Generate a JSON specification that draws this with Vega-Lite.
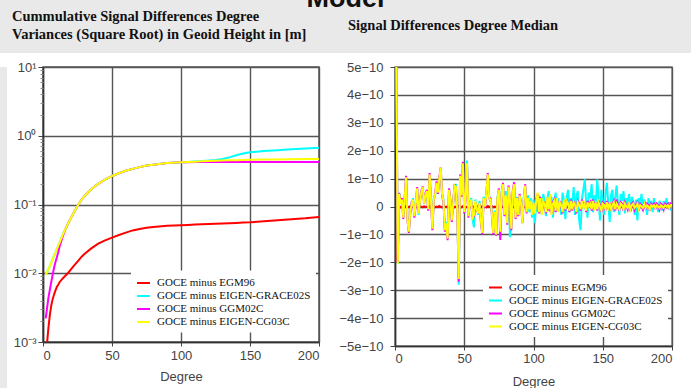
{
"$schema":"https://vega.github.io/schema/vega-lite/v6.json",
"background":"white",
"padding":0,
"spacing":14,
"bounds":"flush",
"config":{"view":{"stroke":null},"axis":{"labelFont":"Liberation Sans","labelFontSize":13,"labelColor":"#444","titleFont":"Liberation Sans","titleFontSize":13,"titleFontWeight":"normal","titleColor":"#444","domainColor":"#333","domainWidth":1.5,"tickColor":"#444","gridColor":"#555","gridWidth":1.4}},
"datasets":{
"cum":[
{"d":2,"EGM96":0.0008,"EIGEN-GRACE02S":0.0095,"GGM02C":0.0022,"EIGEN-CG03C":0.0095},
{"d":3,"EGM96":0.001,"EIGEN-GRACE02S":0.0105,"GGM02C":0.0032,"EIGEN-CG03C":0.0105},
{"d":4,"EGM96":0.00166,"EIGEN-GRACE02S":0.0115,"GGM02C":0.0045,"EIGEN-CG03C":0.0115},
{"d":5,"EGM96":0.0025,"EIGEN-GRACE02S":0.0128,"GGM02C":0.0058,"EIGEN-CG03C":0.0128},
{"d":6,"EGM96":0.0034,"EIGEN-GRACE02S":0.0142,"GGM02C":0.0075,"EIGEN-CG03C":0.0142},
{"d":7,"EGM96":0.0042,"EIGEN-GRACE02S":0.016,"GGM02C":0.0095,"EIGEN-CG03C":0.016},
{"d":8,"EGM96":0.0049,"EIGEN-GRACE02S":0.018,"GGM02C":0.012,"EIGEN-CG03C":0.018},
{"d":9,"EGM96":0.0056,"EIGEN-GRACE02S":0.02,"GGM02C":0.0145,"EIGEN-CG03C":0.02},
{"d":10,"EGM96":0.0063,"EIGEN-GRACE02S":0.0225,"GGM02C":0.017,"EIGEN-CG03C":0.0225},
{"d":11,"EGM96":0.0068,"EIGEN-GRACE02S":0.025,"GGM02C":0.02,"EIGEN-CG03C":0.025},
{"d":12,"EGM96":0.0074,"EIGEN-GRACE02S":0.028,"GGM02C":0.0245,"EIGEN-CG03C":0.028},
{"d":14,"EGM96":0.0083,"EIGEN-GRACE02S":0.035,"GGM02C":0.033,"EIGEN-CG03C":0.035},
{"d":16,"EGM96":0.0091,"EIGEN-GRACE02S":0.043,"GGM02C":0.0425,"EIGEN-CG03C":0.043},
{"d":18,"EGM96":0.01,"EIGEN-GRACE02S":0.052,"GGM02C":0.052,"EIGEN-CG03C":0.052},
{"d":20,"EGM96":0.0112,"EIGEN-GRACE02S":0.062,"GGM02C":0.062,"EIGEN-CG03C":0.062},
{"d":22,"EGM96":0.0126,"EIGEN-GRACE02S":0.074,"GGM02C":0.074,"EIGEN-CG03C":0.074},
{"d":25,"EGM96":0.0148,"EIGEN-GRACE02S":0.095,"GGM02C":0.095,"EIGEN-CG03C":0.095},
{"d":28,"EGM96":0.0174,"EIGEN-GRACE02S":0.118,"GGM02C":0.118,"EIGEN-CG03C":0.118},
{"d":30,"EGM96":0.019,"EIGEN-GRACE02S":0.132,"GGM02C":0.132,"EIGEN-CG03C":0.132},
{"d":35,"EGM96":0.023,"EIGEN-GRACE02S":0.167,"GGM02C":0.167,"EIGEN-CG03C":0.167},
{"d":40,"EGM96":0.027,"EIGEN-GRACE02S":0.2,"GGM02C":0.2,"EIGEN-CG03C":0.2},
{"d":45,"EGM96":0.03,"EIGEN-GRACE02S":0.23,"GGM02C":0.23,"EIGEN-CG03C":0.23},
{"d":50,"EGM96":0.033,"EIGEN-GRACE02S":0.26,"GGM02C":0.26,"EIGEN-CG03C":0.26},
{"d":55,"EGM96":0.036,"EIGEN-GRACE02S":0.285,"GGM02C":0.285,"EIGEN-CG03C":0.285},
{"d":60,"EGM96":0.039,"EIGEN-GRACE02S":0.31,"GGM02C":0.31,"EIGEN-CG03C":0.31},
{"d":65,"EGM96":0.042,"EIGEN-GRACE02S":0.33,"GGM02C":0.33,"EIGEN-CG03C":0.33},
{"d":70,"EGM96":0.044,"EIGEN-GRACE02S":0.35,"GGM02C":0.35,"EIGEN-CG03C":0.35},
{"d":75,"EGM96":0.046,"EIGEN-GRACE02S":0.37,"GGM02C":0.37,"EIGEN-CG03C":0.37},
{"d":80,"EGM96":0.047,"EIGEN-GRACE02S":0.38,"GGM02C":0.38,"EIGEN-CG03C":0.38},
{"d":90,"EGM96":0.049,"EIGEN-GRACE02S":0.4,"GGM02C":0.4,"EIGEN-CG03C":0.4},
{"d":100,"EGM96":0.05,"EIGEN-GRACE02S":0.41,"GGM02C":0.41,"EIGEN-CG03C":0.41},
{"d":105,"EGM96":0.0505,"EIGEN-GRACE02S":0.415,"GGM02C":0.413,"EIGEN-CG03C":0.415},
{"d":110,"EGM96":0.051,"EIGEN-GRACE02S":0.422,"GGM02C":0.415,"EIGEN-CG03C":0.42},
{"d":115,"EGM96":0.0515,"EIGEN-GRACE02S":0.428,"GGM02C":0.415,"EIGEN-CG03C":0.425},
{"d":120,"EGM96":0.052,"EIGEN-GRACE02S":0.435,"GGM02C":0.415,"EIGEN-CG03C":0.43},
{"d":125,"EGM96":0.0525,"EIGEN-GRACE02S":0.445,"GGM02C":0.415,"EIGEN-CG03C":0.433},
{"d":130,"EGM96":0.053,"EIGEN-GRACE02S":0.46,"GGM02C":0.415,"EIGEN-CG03C":0.436},
{"d":135,"EGM96":0.0535,"EIGEN-GRACE02S":0.485,"GGM02C":0.415,"EIGEN-CG03C":0.44},
{"d":140,"EGM96":0.054,"EIGEN-GRACE02S":0.52,"GGM02C":0.415,"EIGEN-CG03C":0.442},
{"d":145,"EGM96":0.0545,"EIGEN-GRACE02S":0.55,"GGM02C":0.415,"EIGEN-CG03C":0.445},
{"d":150,"EGM96":0.055,"EIGEN-GRACE02S":0.575,"GGM02C":0.415,"EIGEN-CG03C":0.447},
{"d":160,"EGM96":0.057,"EIGEN-GRACE02S":0.6,"GGM02C":0.415,"EIGEN-CG03C":0.45},
{"d":170,"EGM96":0.059,"EIGEN-GRACE02S":0.615,"GGM02C":0.415,"EIGEN-CG03C":0.453},
{"d":180,"EGM96":0.061,"EIGEN-GRACE02S":0.635,"GGM02C":0.415,"EIGEN-CG03C":0.456},
{"d":190,"EGM96":0.063,"EIGEN-GRACE02S":0.655,"GGM02C":0.415,"EIGEN-CG03C":0.458},
{"d":200,"EGM96":0.066,"EIGEN-GRACE02S":0.67,"GGM02C":0.415,"EIGEN-CG03C":0.46}
],
"med":[
{"d":1,"EGM96":-2e-10,"EIGEN-GRACE02S":5e-10,"GGM02C":5e-10,"EIGEN-CG03C":5e-10},
{"d":2,"EGM96":-0.02e-10,"EIGEN-GRACE02S":-2.05e-10,"GGM02C":-2.0e-10,"EIGEN-CG03C":-2.05e-10},
{"d":3,"EGM96":0.01e-10,"EIGEN-GRACE02S":0.5e-10,"GGM02C":0.48e-10,"EIGEN-CG03C":0.45e-10},
{"d":4,"EGM96":-0.03e-10,"EIGEN-GRACE02S":0.15e-10,"GGM02C":0.12e-10,"EIGEN-CG03C":0.1e-10},
{"d":5,"EGM96":0.02e-10,"EIGEN-GRACE02S":0.2e-10,"GGM02C":0.3e-10,"EIGEN-CG03C":0.25e-10},
{"d":6,"EGM96":-0.01e-10,"EIGEN-GRACE02S":-0.35e-10,"GGM02C":-0.45e-10,"EIGEN-CG03C":-0.4e-10},
{"d":7,"EGM96":0.03e-10,"EIGEN-GRACE02S":0.3e-10,"GGM02C":0.35e-10,"EIGEN-CG03C":0.3e-10},
{"d":8,"EGM96":-0.02e-10,"EIGEN-GRACE02S":1.0e-10,"GGM02C":1.1e-10,"EIGEN-CG03C":1.05e-10},
{"d":9,"EGM96":0,"EIGEN-GRACE02S":-0.45e-10,"GGM02C":-0.5e-10,"EIGEN-CG03C":-0.5e-10},
{"d":10,"EGM96":-0.03e-10,"EIGEN-GRACE02S":-0.85e-10,"GGM02C":-0.95e-10,"EIGEN-CG03C":-0.9e-10},
{"d":11,"EGM96":0.02e-10,"EIGEN-GRACE02S":-0.2e-10,"GGM02C":-0.25e-10,"EIGEN-CG03C":-0.2e-10},
{"d":12,"EGM96":-0.01e-10,"EIGEN-GRACE02S":0.1e-10,"GGM02C":0.15e-10,"EIGEN-CG03C":0.1e-10},
{"d":13,"EGM96":-0.02e-10,"EIGEN-GRACE02S":0.3e-10,"GGM02C":0.2e-10,"EIGEN-CG03C":0.25e-10},
{"d":14,"EGM96":0.01e-10,"EIGEN-GRACE02S":-0.3e-10,"GGM02C":-0.4e-10,"EIGEN-CG03C":-0.35e-10},
{"d":15,"EGM96":-0.03e-10,"EIGEN-GRACE02S":0.15e-10,"GGM02C":0.05e-10,"EIGEN-CG03C":0.1e-10},
{"d":16,"EGM96":0,"EIGEN-GRACE02S":0.6e-10,"GGM02C":0.7e-10,"EIGEN-CG03C":0.65e-10},
{"d":17,"EGM96":-0.02e-10,"EIGEN-GRACE02S":-0.3e-10,"GGM02C":-0.2e-10,"EIGEN-CG03C":-0.25e-10},
{"d":18,"EGM96":0.02e-10,"EIGEN-GRACE02S":0.2e-10,"GGM02C":0.25e-10,"EIGEN-CG03C":0.2e-10},
{"d":19,"EGM96":-0.01e-10,"EIGEN-GRACE02S":0.45e-10,"GGM02C":0.55e-10,"EIGEN-CG03C":0.5e-10},
{"d":20,"EGM96":-0.03e-10,"EIGEN-GRACE02S":0.65e-10,"GGM02C":0.72e-10,"EIGEN-CG03C":0.7e-10},
{"d":21,"EGM96":0.01e-10,"EIGEN-GRACE02S":0.15e-10,"GGM02C":0.1e-10,"EIGEN-CG03C":0.1e-10},
{"d":22,"EGM96":-0.02e-10,"EIGEN-GRACE02S":0.35e-10,"GGM02C":0.45e-10,"EIGEN-CG03C":0.4e-10},
{"d":23,"EGM96":0,"EIGEN-GRACE02S":0.5e-10,"GGM02C":0.6e-10,"EIGEN-CG03C":0.55e-10},
{"d":24,"EGM96":-0.03e-10,"EIGEN-GRACE02S":-0.05e-10,"GGM02C":-0.15e-10,"EIGEN-CG03C":-0.1e-10},
{"d":25,"EGM96":0.02e-10,"EIGEN-GRACE02S":1.1e-10,"GGM02C":1.2e-10,"EIGEN-CG03C":1.15e-10},
{"d":26,"EGM96":-0.01e-10,"EIGEN-GRACE02S":0.25e-10,"GGM02C":0.15e-10,"EIGEN-CG03C":0.2e-10},
{"d":27,"EGM96":-0.02e-10,"EIGEN-GRACE02S":-0.75e-10,"GGM02C":-0.85e-10,"EIGEN-CG03C":-0.8e-10},
{"d":28,"EGM96":0.01e-10,"EIGEN-GRACE02S":0.3e-10,"GGM02C":0.2e-10,"EIGEN-CG03C":0.25e-10},
{"d":29,"EGM96":-0.03e-10,"EIGEN-GRACE02S":0.4e-10,"GGM02C":0.5e-10,"EIGEN-CG03C":0.45e-10},
{"d":30,"EGM96":0,"EIGEN-GRACE02S":0.8e-10,"GGM02C":0.9e-10,"EIGEN-CG03C":0.85e-10},
{"d":31,"EGM96":-0.02e-10,"EIGEN-GRACE02S":0.55e-10,"GGM02C":0.45e-10,"EIGEN-CG03C":0.5e-10},
{"d":32,"EGM96":0.02e-10,"EIGEN-GRACE02S":0.95e-10,"GGM02C":1.05e-10,"EIGEN-CG03C":1.0e-10},
{"d":33,"EGM96":-0.01e-10,"EIGEN-GRACE02S":1.35e-10,"GGM02C":1.4e-10,"EIGEN-CG03C":1.4e-10},
{"d":34,"EGM96":-0.03e-10,"EIGEN-GRACE02S":0.5e-10,"GGM02C":0.4e-10,"EIGEN-CG03C":0.45e-10},
{"d":35,"EGM96":0.01e-10,"EIGEN-GRACE02S":0.25e-10,"GGM02C":0.15e-10,"EIGEN-CG03C":0.2e-10},
{"d":36,"EGM96":-0.02e-10,"EIGEN-GRACE02S":-0.8e-10,"GGM02C":-0.9e-10,"EIGEN-CG03C":-0.85e-10},
{"d":37,"EGM96":0,"EIGEN-GRACE02S":-0.55e-10,"GGM02C":-0.65e-10,"EIGEN-CG03C":-0.6e-10},
{"d":38,"EGM96":-0.03e-10,"EIGEN-GRACE02S":-1.1e-10,"GGM02C":-1.21e-10,"EIGEN-CG03C":-1.15e-10},
{"d":39,"EGM96":0.02e-10,"EIGEN-GRACE02S":0.55e-10,"GGM02C":0.65e-10,"EIGEN-CG03C":0.6e-10},
{"d":40,"EGM96":-0.01e-10,"EIGEN-GRACE02S":0.25e-10,"GGM02C":0.2e-10,"EIGEN-CG03C":0.2e-10},
{"d":41,"EGM96":-0.02e-10,"EIGEN-GRACE02S":-0.45e-10,"GGM02C":-0.55e-10,"EIGEN-CG03C":-0.5e-10},
{"d":42,"EGM96":0.01e-10,"EIGEN-GRACE02S":0.15e-10,"GGM02C":0.1e-10,"EIGEN-CG03C":0.1e-10},
{"d":43,"EGM96":-0.03e-10,"EIGEN-GRACE02S":0.7e-10,"GGM02C":0.8e-10,"EIGEN-CG03C":0.75e-10},
{"d":44,"EGM96":0,"EIGEN-GRACE02S":0.75e-10,"GGM02C":0.65e-10,"EIGEN-CG03C":0.7e-10},
{"d":45,"EGM96":-0.02e-10,"EIGEN-GRACE02S":-0.15e-10,"GGM02C":-0.25e-10,"EIGEN-CG03C":-0.2e-10},
{"d":46,"EGM96":0.02e-10,"EIGEN-GRACE02S":-2.8e-10,"GGM02C":-2.7e-10,"EIGEN-CG03C":-2.6e-10},
{"d":47,"EGM96":-0.01e-10,"EIGEN-GRACE02S":1.05e-10,"GGM02C":1.15e-10,"EIGEN-CG03C":1.1e-10},
{"d":48,"EGM96":-0.03e-10,"EIGEN-GRACE02S":0.45e-10,"GGM02C":0.35e-10,"EIGEN-CG03C":0.4e-10},
{"d":49,"EGM96":0.01e-10,"EIGEN-GRACE02S":1.5e-10,"GGM02C":1.6e-10,"EIGEN-CG03C":1.55e-10},
{"d":50,"EGM96":-0.02e-10,"EIGEN-GRACE02S":-0.15e-10,"GGM02C":-0.25e-10,"EIGEN-CG03C":-0.2e-10},
{"d":51,"EGM96":0,"EIGEN-GRACE02S":0.35e-10,"GGM02C":0.25e-10,"EIGEN-CG03C":0.3e-10},
{"d":52,"EGM96":-0.03e-10,"EIGEN-GRACE02S":1.65e-10,"GGM02C":1.5e-10,"EIGEN-CG03C":1.55e-10},
{"d":53,"EGM96":0.02e-10,"EIGEN-GRACE02S":-0.3e-10,"GGM02C":-0.4e-10,"EIGEN-CG03C":-0.35e-10},
{"d":54,"EGM96":-0.01e-10,"EIGEN-GRACE02S":0.15e-10,"GGM02C":0.05e-10,"EIGEN-CG03C":0.1e-10},
{"d":55,"EGM96":-0.02e-10,"EIGEN-GRACE02S":0.3e-10,"GGM02C":0.2e-10,"EIGEN-CG03C":0.25e-10},
{"d":56,"EGM96":0.01e-10,"EIGEN-GRACE02S":-0.45e-10,"GGM02C":-0.35e-10,"EIGEN-CG03C":-0.4e-10},
{"d":57,"EGM96":-0.03e-10,"EIGEN-GRACE02S":-0.75e-10,"GGM02C":-0.35e-10,"EIGEN-CG03C":-0.3e-10},
{"d":58,"EGM96":0,"EIGEN-GRACE02S":0.25e-10,"GGM02C":0.15e-10,"EIGEN-CG03C":0.2e-10},
{"d":59,"EGM96":-0.02e-10,"EIGEN-GRACE02S":-0.05e-10,"GGM02C":-0.15e-10,"EIGEN-CG03C":-0.1e-10},
{"d":60,"EGM96":0.02e-10,"EIGEN-GRACE02S":-0.3e-10,"GGM02C":-0.2e-10,"EIGEN-CG03C":-0.25e-10},
{"d":61,"EGM96":-0.01e-10,"EIGEN-GRACE02S":0.2e-10,"GGM02C":0.1e-10,"EIGEN-CG03C":0.12e-10},
{"d":62,"EGM96":-0.03e-10,"EIGEN-GRACE02S":-0.45e-10,"GGM02C":-0.55e-10,"EIGEN-CG03C":-0.5e-10},
{"d":63,"EGM96":0.01e-10,"EIGEN-GRACE02S":-0.9e-10,"GGM02C":-1.0e-10,"EIGEN-CG03C":-0.95e-10},
{"d":64,"EGM96":-0.02e-10,"EIGEN-GRACE02S":0.35e-10,"GGM02C":0.25e-10,"EIGEN-CG03C":0.3e-10},
{"d":65,"EGM96":0,"EIGEN-GRACE02S":0.05e-10,"GGM02C":-0.05e-10,"EIGEN-CG03C":0},
{"d":66,"EGM96":-0.03e-10,"EIGEN-GRACE02S":0.55e-10,"GGM02C":0.45e-10,"EIGEN-CG03C":0.5e-10},
{"d":67,"EGM96":0.02e-10,"EIGEN-GRACE02S":1.1e-10,"GGM02C":1.2e-10,"EIGEN-CG03C":1.15e-10},
{"d":68,"EGM96":-0.01e-10,"EIGEN-GRACE02S":0.35e-10,"GGM02C":0.3e-10,"EIGEN-CG03C":0.3e-10},
{"d":69,"EGM96":-0.02e-10,"EIGEN-GRACE02S":0.2e-10,"GGM02C":0.3e-10,"EIGEN-CG03C":0.25e-10},
{"d":70,"EGM96":0.01e-10,"EIGEN-GRACE02S":-0.25e-10,"GGM02C":-0.35e-10,"EIGEN-CG03C":-0.3e-10},
{"d":71,"EGM96":-0.03e-10,"EIGEN-GRACE02S":-0.9e-10,"GGM02C":-1.0e-10,"EIGEN-CG03C":-0.95e-10},
{"d":72,"EGM96":0,"EIGEN-GRACE02S":-0.15e-10,"GGM02C":-0.25e-10,"EIGEN-CG03C":-0.2e-10},
{"d":73,"EGM96":-0.02e-10,"EIGEN-GRACE02S":-0.95e-10,"GGM02C":-1.05e-10,"EIGEN-CG03C":-1.0e-10},
{"d":74,"EGM96":0.02e-10,"EIGEN-GRACE02S":0.35e-10,"GGM02C":0.25e-10,"EIGEN-CG03C":0.3e-10},
{"d":75,"EGM96":-0.01e-10,"EIGEN-GRACE02S":0.55e-10,"GGM02C":0.65e-10,"EIGEN-CG03C":0.6e-10},
{"d":76,"EGM96":-0.03e-10,"EIGEN-GRACE02S":-0.85e-10,"GGM02C":-1.2e-10,"EIGEN-CG03C":-0.9e-10},
{"d":77,"EGM96":0.01e-10,"EIGEN-GRACE02S":0.55e-10,"GGM02C":0.45e-10,"EIGEN-CG03C":0.5e-10},
{"d":78,"EGM96":-0.02e-10,"EIGEN-GRACE02S":0.75e-10,"GGM02C":0.85e-10,"EIGEN-CG03C":0.8e-10},
{"d":79,"EGM96":0,"EIGEN-GRACE02S":-0.25e-10,"GGM02C":-0.35e-10,"EIGEN-CG03C":-0.3e-10},
{"d":80,"EGM96":-0.03e-10,"EIGEN-GRACE02S":0.55e-10,"GGM02C":0.35e-10,"EIGEN-CG03C":0.4e-10},
{"d":81,"EGM96":0.02e-10,"EIGEN-GRACE02S":-0.55e-10,"GGM02C":-0.65e-10,"EIGEN-CG03C":-0.6e-10},
{"d":82,"EGM96":-0.01e-10,"EIGEN-GRACE02S":0.65e-10,"GGM02C":0.75e-10,"EIGEN-CG03C":0.7e-10},
{"d":83,"EGM96":-0.02e-10,"EIGEN-GRACE02S":-1.1e-10,"GGM02C":0.15e-10,"EIGEN-CG03C":0.2e-10},
{"d":84,"EGM96":0.01e-10,"EIGEN-GRACE02S":-0.7e-10,"GGM02C":-0.85e-10,"EIGEN-CG03C":-0.8e-10},
{"d":85,"EGM96":-0.03e-10,"EIGEN-GRACE02S":0.45e-10,"GGM02C":0.55e-10,"EIGEN-CG03C":0.5e-10},
{"d":86,"EGM96":0,"EIGEN-GRACE02S":0.75e-10,"GGM02C":0.87e-10,"EIGEN-CG03C":0.8e-10},
{"d":87,"EGM96":-0.02e-10,"EIGEN-GRACE02S":-0.35e-10,"GGM02C":-0.45e-10,"EIGEN-CG03C":-0.4e-10},
{"d":88,"EGM96":0.02e-10,"EIGEN-GRACE02S":0.35e-10,"GGM02C":0.25e-10,"EIGEN-CG03C":0.3e-10},
{"d":89,"EGM96":-0.01e-10,"EIGEN-GRACE02S":-0.25e-10,"GGM02C":-0.35e-10,"EIGEN-CG03C":-0.3e-10},
{"d":90,"EGM96":-0.03e-10,"EIGEN-GRACE02S":0.35e-10,"GGM02C":0.45e-10,"EIGEN-CG03C":0.4e-10},
{"d":91,"EGM96":0.01e-10,"EIGEN-GRACE02S":0.15e-10,"GGM02C":0.05e-10,"EIGEN-CG03C":0.1e-10},
{"d":92,"EGM96":-0.02e-10,"EIGEN-GRACE02S":-0.55e-10,"GGM02C":-0.6e-10,"EIGEN-CG03C":-0.6e-10},
{"d":93,"EGM96":0,"EIGEN-GRACE02S":0.35e-10,"GGM02C":0.25e-10,"EIGEN-CG03C":0.3e-10},
{"d":94,"EGM96":-0.03e-10,"EIGEN-GRACE02S":0.7e-10,"GGM02C":0.8e-10,"EIGEN-CG03C":0.75e-10},
{"d":95,"EGM96":0.02e-10,"EIGEN-GRACE02S":-0.15e-10,"GGM02C":-0.25e-10,"EIGEN-CG03C":-0.2e-10},
{"d":96,"EGM96":-0.01e-10,"EIGEN-GRACE02S":0.4e-10,"GGM02C":0.25e-10,"EIGEN-CG03C":0.3e-10},
{"d":97,"EGM96":-0.02e-10,"EIGEN-GRACE02S":-0.2e-10,"GGM02C":-0.05e-10,"EIGEN-CG03C":-0.1e-10},
{"d":98,"EGM96":0.01e-10,"EIGEN-GRACE02S":0.3e-10,"GGM02C":0.15e-10,"EIGEN-CG03C":0.2e-10},
{"d":99,"EGM96":-0.03e-10,"EIGEN-GRACE02S":-0.4e-10,"GGM02C":-0.25e-10,"EIGEN-CG03C":-0.3e-10},
{"d":100,"EGM96":0,"EIGEN-GRACE02S":0.25e-10,"GGM02C":0.1e-10,"EIGEN-CG03C":0.15e-10},
{"d":101,"EGM96":0.02e-10,"EIGEN-GRACE02S":-0.6e-10,"GGM02C":-0.2e-10,"EIGEN-CG03C":-0.25e-10},
{"d":102,"EGM96":-0.01e-10,"EIGEN-GRACE02S":0.3e-10,"GGM02C":0.25e-10,"EIGEN-CG03C":0.2e-10},
{"d":103,"EGM96":0,"EIGEN-GRACE02S":-0.2e-10,"GGM02C":0.45e-10,"EIGEN-CG03C":0.5e-10},
{"d":104,"EGM96":-0.02e-10,"EIGEN-GRACE02S":0.4e-10,"GGM02C":-0.25e-10,"EIGEN-CG03C":-0.2e-10},
{"d":105,"EGM96":0.01e-10,"EIGEN-GRACE02S":0.1e-10,"GGM02C":0.35e-10,"EIGEN-CG03C":0.3e-10},
{"d":106,"EGM96":-0.03e-10,"EIGEN-GRACE02S":-0.3e-10,"GGM02C":-0.25e-10,"EIGEN-CG03C":-0.3e-10},
{"d":107,"EGM96":0.02e-10,"EIGEN-GRACE02S":0.45e-10,"GGM02C":0.15e-10,"EIGEN-CG03C":0.2e-10},
{"d":108,"EGM96":-0.01e-10,"EIGEN-GRACE02S":0.2e-10,"GGM02C":0.15e-10,"EIGEN-CG03C":0.1e-10},
{"d":109,"EGM96":0,"EIGEN-GRACE02S":-0.35e-10,"GGM02C":-0.25e-10,"EIGEN-CG03C":-0.2e-10},
{"d":110,"EGM96":-0.02e-10,"EIGEN-GRACE02S":0.3e-10,"GGM02C":0.3e-10,"EIGEN-CG03C":0.35e-10},
{"d":111,"EGM96":0.01e-10,"EIGEN-GRACE02S":0.55e-10,"GGM02C":-0.15e-10,"EIGEN-CG03C":-0.1e-10},
{"d":112,"EGM96":-0.03e-10,"EIGEN-GRACE02S":-0.2e-10,"GGM02C":0.4e-10,"EIGEN-CG03C":0.45e-10},
{"d":113,"EGM96":0.02e-10,"EIGEN-GRACE02S":0.35e-10,"GGM02C":-0.25e-10,"EIGEN-CG03C":-0.3e-10},
{"d":114,"EGM96":-0.01e-10,"EIGEN-GRACE02S":-0.4e-10,"GGM02C":0.15e-10,"EIGEN-CG03C":0.1e-10},
{"d":115,"EGM96":0,"EIGEN-GRACE02S":0.2e-10,"GGM02C":0.25e-10,"EIGEN-CG03C":0.2e-10},
{"d":116,"EGM96":-0.02e-10,"EIGEN-GRACE02S":0.5e-10,"GGM02C":-0.2e-10,"EIGEN-CG03C":-0.15e-10},
{"d":117,"EGM96":0.01e-10,"EIGEN-GRACE02S":-0.15e-10,"GGM02C":0.25e-10,"EIGEN-CG03C":0.3e-10},
{"d":118,"EGM96":-0.03e-10,"EIGEN-GRACE02S":0.3e-10,"GGM02C":-0.15e-10,"EIGEN-CG03C":-0.2e-10},
{"d":119,"EGM96":0.02e-10,"EIGEN-GRACE02S":0.1e-10,"GGM02C":0.2e-10,"EIGEN-CG03C":0.15e-10},
{"d":120,"EGM96":-0.01e-10,"EIGEN-GRACE02S":-0.3e-10,"GGM02C":0,"EIGEN-CG03C":0.05e-10},
{"d":121,"EGM96":0,"EIGEN-GRACE02S":0.5e-10,"GGM02C":-0.25e-10,"EIGEN-CG03C":-0.2e-10},
{"d":122,"EGM96":-0.02e-10,"EIGEN-GRACE02S":0.2e-10,"GGM02C":0.2e-10,"EIGEN-CG03C":0.25e-10},
{"d":123,"EGM96":0.01e-10,"EIGEN-GRACE02S":-0.45e-10,"GGM02C":-0.15e-10,"EIGEN-CG03C":-0.1e-10},
{"d":124,"EGM96":-0.03e-10,"EIGEN-GRACE02S":0.35e-10,"GGM02C":0.25e-10,"EIGEN-CG03C":0.2e-10},
{"d":125,"EGM96":0.02e-10,"EIGEN-GRACE02S":0.6e-10,"GGM02C":0.05e-10,"EIGEN-CG03C":0.1e-10},
{"d":126,"EGM96":-0.01e-10,"EIGEN-GRACE02S":-0.2e-10,"GGM02C":-0.2e-10,"EIGEN-CG03C":-0.15e-10},
{"d":127,"EGM96":0,"EIGEN-GRACE02S":0.3e-10,"GGM02C":0.25e-10,"EIGEN-CG03C":0.2e-10},
{"d":128,"EGM96":-0.02e-10,"EIGEN-GRACE02S":0.1e-10,"GGM02C":-0.15e-10,"EIGEN-CG03C":-0.1e-10},
{"d":129,"EGM96":0.01e-10,"EIGEN-GRACE02S":0.7e-10,"GGM02C":0.2e-10,"EIGEN-CG03C":0.15e-10},
{"d":130,"EGM96":-0.03e-10,"EIGEN-GRACE02S":-0.3e-10,"GGM02C":0,"EIGEN-CG03C":0.05e-10},
{"d":131,"EGM96":0.02e-10,"EIGEN-GRACE02S":0.4e-10,"GGM02C":-0.25e-10,"EIGEN-CG03C":-0.2e-10},
{"d":132,"EGM96":-0.01e-10,"EIGEN-GRACE02S":0.55e-10,"GGM02C":0.2e-10,"EIGEN-CG03C":0.15e-10},
{"d":133,"EGM96":0,"EIGEN-GRACE02S":-0.5e-10,"GGM02C":0.1e-10,"EIGEN-CG03C":0.05e-10},
{"d":134,"EGM96":-0.02e-10,"EIGEN-GRACE02S":-0.85e-10,"GGM02C":-0.15e-10,"EIGEN-CG03C":-0.1e-10},
{"d":135,"EGM96":0.01e-10,"EIGEN-GRACE02S":0.3e-10,"GGM02C":0.25e-10,"EIGEN-CG03C":0.2e-10},
{"d":136,"EGM96":-0.03e-10,"EIGEN-GRACE02S":0.6e-10,"GGM02C":0,"EIGEN-CG03C":-0.05e-10},
{"d":137,"EGM96":0.02e-10,"EIGEN-GRACE02S":0.97e-10,"GGM02C":0.15e-10,"EIGEN-CG03C":0.1e-10},
{"d":138,"EGM96":-0.01e-10,"EIGEN-GRACE02S":0.2e-10,"GGM02C":-0.2e-10,"EIGEN-CG03C":-0.15e-10},
{"d":139,"EGM96":0,"EIGEN-GRACE02S":-0.4e-10,"GGM02C":0.2e-10,"EIGEN-CG03C":0.15e-10},
{"d":140,"EGM96":-0.02e-10,"EIGEN-GRACE02S":0.5e-10,"GGM02C":0.05e-10,"EIGEN-CG03C":0},
{"d":141,"EGM96":0.01e-10,"EIGEN-GRACE02S":0.3e-10,"GGM02C":0.15e-10,"EIGEN-CG03C":0.1e-10},
{"d":142,"EGM96":-0.03e-10,"EIGEN-GRACE02S":0.8e-10,"GGM02C":-0.15e-10,"EIGEN-CG03C":-0.1e-10},
{"d":143,"EGM96":0.02e-10,"EIGEN-GRACE02S":-0.2e-10,"GGM02C":0.25e-10,"EIGEN-CG03C":0.2e-10},
{"d":144,"EGM96":-0.01e-10,"EIGEN-GRACE02S":0.4e-10,"GGM02C":0,"EIGEN-CG03C":-0.05e-10},
{"d":145,"EGM96":0,"EIGEN-GRACE02S":0.1e-10,"GGM02C":0.15e-10,"EIGEN-CG03C":0.1e-10},
{"d":146,"EGM96":-0.02e-10,"EIGEN-GRACE02S":0.97e-10,"GGM02C":-0.15e-10,"EIGEN-CG03C":-0.1e-10},
{"d":147,"EGM96":0.01e-10,"EIGEN-GRACE02S":0.3e-10,"GGM02C":0.2e-10,"EIGEN-CG03C":0.15e-10},
{"d":148,"EGM96":-0.03e-10,"EIGEN-GRACE02S":-0.5e-10,"GGM02C":0.05e-10,"EIGEN-CG03C":0},
{"d":149,"EGM96":0.02e-10,"EIGEN-GRACE02S":0.6e-10,"GGM02C":-0.2e-10,"EIGEN-CG03C":-0.15e-10},
{"d":150,"EGM96":-0.01e-10,"EIGEN-GRACE02S":0.2e-10,"GGM02C":0.15e-10,"EIGEN-CG03C":0.1e-10},
{"d":151,"EGM96":0,"EIGEN-GRACE02S":-0.3e-10,"GGM02C":0.1e-10,"EIGEN-CG03C":0.05e-10},
{"d":152,"EGM96":-0.02e-10,"EIGEN-GRACE02S":0.45e-10,"GGM02C":-0.15e-10,"EIGEN-CG03C":-0.1e-10},
{"d":153,"EGM96":0.01e-10,"EIGEN-GRACE02S":0.85e-10,"GGM02C":0.2e-10,"EIGEN-CG03C":0.15e-10},
{"d":154,"EGM96":-0.03e-10,"EIGEN-GRACE02S":0.1e-10,"GGM02C":0,"EIGEN-CG03C":-0.05e-10},
{"d":155,"EGM96":0.02e-10,"EIGEN-GRACE02S":-0.55e-10,"GGM02C":0.15e-10,"EIGEN-CG03C":0.1e-10},
{"d":156,"EGM96":-0.01e-10,"EIGEN-GRACE02S":0.4e-10,"GGM02C":-0.15e-10,"EIGEN-CG03C":-0.1e-10},
{"d":157,"EGM96":0,"EIGEN-GRACE02S":0.6e-10,"GGM02C":0.1e-10,"EIGEN-CG03C":0.05e-10},
{"d":158,"EGM96":-0.02e-10,"EIGEN-GRACE02S":-0.2e-10,"GGM02C":0.2e-10,"EIGEN-CG03C":0.15e-10},
{"d":159,"EGM96":0.01e-10,"EIGEN-GRACE02S":0.3e-10,"GGM02C":-0.15e-10,"EIGEN-CG03C":-0.1e-10},
{"d":160,"EGM96":-0.03e-10,"EIGEN-GRACE02S":0.75e-10,"GGM02C":0.25e-10,"EIGEN-CG03C":0.1e-10},
{"d":161,"EGM96":0.02e-10,"EIGEN-GRACE02S":0.1e-10,"GGM02C":0.05e-10,"EIGEN-CG03C":0},
{"d":162,"EGM96":-0.01e-10,"EIGEN-GRACE02S":-0.3e-10,"GGM02C":-0.15e-10,"EIGEN-CG03C":-0.1e-10},
{"d":163,"EGM96":0,"EIGEN-GRACE02S":0.45e-10,"GGM02C":0.15e-10,"EIGEN-CG03C":0.1e-10},
{"d":164,"EGM96":-0.02e-10,"EIGEN-GRACE02S":0.2e-10,"GGM02C":0.1e-10,"EIGEN-CG03C":0.05e-10},
{"d":165,"EGM96":0.01e-10,"EIGEN-GRACE02S":0.55e-10,"GGM02C":-0.15e-10,"EIGEN-CG03C":-0.1e-10},
{"d":166,"EGM96":-0.03e-10,"EIGEN-GRACE02S":-0.25e-10,"GGM02C":0.15e-10,"EIGEN-CG03C":0.1e-10},
{"d":167,"EGM96":0.02e-10,"EIGEN-GRACE02S":0.3e-10,"GGM02C":0.05e-10,"EIGEN-CG03C":0},
{"d":168,"EGM96":-0.01e-10,"EIGEN-GRACE02S":0.1e-10,"GGM02C":-0.1e-10,"EIGEN-CG03C":-0.05e-10},
{"d":169,"EGM96":0,"EIGEN-GRACE02S":0.45e-10,"GGM02C":0.15e-10,"EIGEN-CG03C":0.1e-10},
{"d":170,"EGM96":-0.02e-10,"EIGEN-GRACE02S":-0.2e-10,"GGM02C":-0.15e-10,"EIGEN-CG03C":-0.1e-10},
{"d":171,"EGM96":0.01e-10,"EIGEN-GRACE02S":0.35e-10,"GGM02C":0.1e-10,"EIGEN-CG03C":0.05e-10},
{"d":172,"EGM96":-0.03e-10,"EIGEN-GRACE02S":0.15e-10,"GGM02C":0.15e-10,"EIGEN-CG03C":0.1e-10},
{"d":173,"EGM96":0.02e-10,"EIGEN-GRACE02S":-0.3e-10,"GGM02C":-0.1e-10,"EIGEN-CG03C":-0.05e-10},
{"d":174,"EGM96":-0.01e-10,"EIGEN-GRACE02S":0.25e-10,"GGM02C":0.05e-10,"EIGEN-CG03C":0},
{"d":175,"EGM96":0,"EIGEN-GRACE02S":-0.5e-10,"GGM02C":0.15e-10,"EIGEN-CG03C":0.1e-10},
{"d":176,"EGM96":-0.02e-10,"EIGEN-GRACE02S":0.3e-10,"GGM02C":-0.15e-10,"EIGEN-CG03C":-0.1e-10},
{"d":177,"EGM96":0.01e-10,"EIGEN-GRACE02S":0.1e-10,"GGM02C":0.1e-10,"EIGEN-CG03C":0.05e-10},
{"d":178,"EGM96":-0.03e-10,"EIGEN-GRACE02S":0.45e-10,"GGM02C":0.05e-10,"EIGEN-CG03C":0},
{"d":179,"EGM96":0.02e-10,"EIGEN-GRACE02S":-0.15e-10,"GGM02C":-0.1e-10,"EIGEN-CG03C":-0.05e-10},
{"d":180,"EGM96":-0.01e-10,"EIGEN-GRACE02S":0.25e-10,"GGM02C":0.15e-10,"EIGEN-CG03C":0.1e-10},
{"d":181,"EGM96":0,"EIGEN-GRACE02S":0.1e-10,"GGM02C":-0.1e-10,"EIGEN-CG03C":-0.05e-10},
{"d":182,"EGM96":-0.02e-10,"EIGEN-GRACE02S":-0.3e-10,"GGM02C":0.1e-10,"EIGEN-CG03C":0.05e-10},
{"d":183,"EGM96":0.01e-10,"EIGEN-GRACE02S":0.3e-10,"GGM02C":0.05e-10,"EIGEN-CG03C":0},
{"d":184,"EGM96":-0.03e-10,"EIGEN-GRACE02S":0.05e-10,"GGM02C":-0.15e-10,"EIGEN-CG03C":-0.1e-10},
{"d":185,"EGM96":0.02e-10,"EIGEN-GRACE02S":0.2e-10,"GGM02C":0.1e-10,"EIGEN-CG03C":0.05e-10},
{"d":186,"EGM96":-0.01e-10,"EIGEN-GRACE02S":-0.2e-10,"GGM02C":0.05e-10,"EIGEN-CG03C":0},
{"d":187,"EGM96":0,"EIGEN-GRACE02S":0.3e-10,"GGM02C":0.1e-10,"EIGEN-CG03C":0.05e-10},
{"d":188,"EGM96":-0.02e-10,"EIGEN-GRACE02S":0,"GGM02C":-0.1e-10,"EIGEN-CG03C":-0.05e-10},
{"d":189,"EGM96":0.01e-10,"EIGEN-GRACE02S":0.15e-10,"GGM02C":0.1e-10,"EIGEN-CG03C":0.05e-10},
{"d":190,"EGM96":-0.03e-10,"EIGEN-GRACE02S":-0.2e-10,"GGM02C":0.05e-10,"EIGEN-CG03C":0},
{"d":191,"EGM96":0.02e-10,"EIGEN-GRACE02S":0.2e-10,"GGM02C":-0.1e-10,"EIGEN-CG03C":-0.05e-10},
{"d":192,"EGM96":-0.01e-10,"EIGEN-GRACE02S":0.05e-10,"GGM02C":0.1e-10,"EIGEN-CG03C":0.05e-10},
{"d":193,"EGM96":0,"EIGEN-GRACE02S":-0.15e-10,"GGM02C":0.05e-10,"EIGEN-CG03C":0},
{"d":194,"EGM96":-0.02e-10,"EIGEN-GRACE02S":0.2e-10,"GGM02C":-0.1e-10,"EIGEN-CG03C":-0.05e-10},
{"d":195,"EGM96":0.01e-10,"EIGEN-GRACE02S":0,"GGM02C":0.1e-10,"EIGEN-CG03C":0.05e-10},
{"d":196,"EGM96":-0.03e-10,"EIGEN-GRACE02S":0.3e-10,"GGM02C":0.05e-10,"EIGEN-CG03C":0},
{"d":197,"EGM96":0.02e-10,"EIGEN-GRACE02S":-0.1e-10,"GGM02C":0.1e-10,"EIGEN-CG03C":0.05e-10},
{"d":198,"EGM96":-0.01e-10,"EIGEN-GRACE02S":0.15e-10,"GGM02C":-0.1e-10,"EIGEN-CG03C":-0.05e-10},
{"d":199,"EGM96":0,"EIGEN-GRACE02S":-0.05e-10,"GGM02C":0.1e-10,"EIGEN-CG03C":0.05e-10},
{"d":200,"EGM96":-0.02e-10,"EIGEN-GRACE02S":0.1e-10,"GGM02C":0.05e-10,"EIGEN-CG03C":0.05e-10}
]
},
"vconcat":[
{"width":691,"height":53,"view":{"fill":"#e9e9e9","stroke":null},
 "data":{"values":[{"t":"Model"}]},
 "mark":{"type":"text","clip":true,"font":"Liberation Sans","fontSize":27,"fontWeight":"bold","baseline":"alphabetic","dy":-19.5,"color":"#111"},
 "encoding":{"text":{"field":"t","type":"nominal"}}},
{"hconcat":[
  {"width":7,"height":321,"view":{"fill":"#e9e9e9","stroke":null},"data":{"values":[{}]},"mark":{"type":"text"},"encoding":{"text":{"value":""}}},
  {"hconcat":[
  {"width":276,"height":275,
   "title":{"text":["Cummulative Signal Differences Degree","Variances (Square Root) in Geoid Height in [m]"],"anchor":"start","frame":"group","orient":"top","offset":19,"baseline":"top","lineHeight":18,"dx":-31,"font":"Liberation Serif","fontSize":14.5,"fontWeight":"bold","color":"#111"},
   "view":{"stroke":"#555","strokeWidth":1.5,"fill":"white"},
   "data":{"name":"cum"},
   "transform":[{"fold":["EGM96","EIGEN-GRACE02S","GGM02C","EIGEN-CG03C"],"as":["series","value"]}],
   "layer":[
    {"mark":{"type":"line","strokeWidth":2,"clip":true},
     "encoding":{
      "x":{"field":"d","type":"quantitative","scale":{"domain":[0,200],"nice":false},
           "axis":{"values":[0,50,100,150,200],"grid":true,"tickSize":4,"labelPadding":3,"title":"Degree","titlePadding":8}},
      "y":{"field":"value","type":"quantitative","scale":{"type":"log","domain":[0.001,10],"nice":false},
           "axis":{"orient":"left","values":[0.001,0.01,0.1,1,10],"grid":true,"tickSize":5,"labelPadding":2,
                   "labelExpr":"datum.value > 5 ? '10¹' : datum.value > 0.5 ? '10⁰' : datum.value > 0.05 ? '10⁻¹' : datum.value > 0.005 ? '10⁻²' : '10⁻³'",
                   "title":null}},
      "color":{"field":"series","type":"nominal",
               "scale":{"domain":["EGM96","EIGEN-GRACE02S","GGM02C","EIGEN-CG03C"],"range":["#ff0000","#00ffff","#ff00ff","#ffff00"]},
               "legend":{"orient":"none","legendX":88,"legendY":203.5,"title":null,"fillColor":"white","padding":5,"symbolType":"stroke","symbolSize":169,"symbolStrokeWidth":2,"rowPadding":0,"labelFont":"Liberation Serif","labelFontSize":11,"labelColor":"#111","labelOffset":6,"labelLimit":0,"labelExpr":"'GOCE minus ' + datum.label"}}
     }},
    {"mark":{"type":"line","opacity":0},
     "encoding":{
      "x":{"field":"d","type":"quantitative"},
      "y":{"field":"value","type":"quantitative",
           "axis":{"orient":"left","values":[0.002,0.003,0.004,0.005,0.006,0.007,0.008,0.009,0.02,0.03,0.04,0.05,0.06,0.07,0.08,0.09,0.2,0.3,0.4,0.5,0.6,0.7,0.8,0.9,2,3,4,5,6,7,8,9],"labels":false,"grid":false,"domain":false,"tickSize":3,"tickColor":"#888","title":null}}
     }}
   ],
   "resolve":{"axis":{"y":"independent"}}
  },
  {"width":277,"height":279,
   "title":{"text":"Signal Differences Degree Median","anchor":"start","frame":"group","orient":"top","offset":28,"baseline":"top","dx":-47,"font":"Liberation Serif","fontSize":14.5,"fontWeight":"bold","color":"#111"},
   "view":{"stroke":"#888","strokeWidth":1.5,"fill":"white"},
   "data":{"name":"med"},
   "transform":[{"fold":["EGM96","EIGEN-GRACE02S","GGM02C","EIGEN-CG03C"],"as":["series","value"]}],
   "mark":{"type":"line","strokeWidth":2,"clip":true},
   "encoding":{
    "x":{"field":"d","type":"quantitative","scale":{"domain":[0,200],"nice":false},
         "axis":{"values":[0,50,100,150,200],"grid":true,"tickSize":4,"labelPadding":2.5,"title":"Degree","titlePadding":9.5}},
    "y":{"field":"value","type":"quantitative","scale":{"domain":[-5e-10,5e-10],"nice":false,"zero":false},
         "axis":{"values":[-5e-10,-4e-10,-3e-10,-2e-10,-1e-10,0,1e-10,2e-10,3e-10,4e-10,5e-10],"grid":true,"tickSize":5,"labelPadding":7,
                 "labelExpr":"datum.value == 0 ? '0' : replace(format(datum.value, '.0e'), regexp('-', 'g'), '−')","title":null}},
    "color":{"field":"series","type":"nominal",
             "scale":{"domain":["EGM96","EIGEN-GRACE02S","GGM02C","EIGEN-CG03C"],"range":["#ff0000","#00ffff","#ff00ff","#ffff00"]},
             "legend":{"orient":"none","legendX":88,"legendY":208,"title":null,"fillColor":"white","padding":5,"symbolType":"stroke","symbolSize":169,"symbolStrokeWidth":2,"rowPadding":0,"labelFont":"Liberation Serif","labelFontSize":11,"labelColor":"#111","labelOffset":6,"labelLimit":0,"labelExpr":"'GOCE minus ' + datum.label"}}
   }
  }
  ],"spacing":76,"bounds":"flush","resolve":{"scale":{"color":"independent"},"legend":{"color":"independent"}}}
 ],"spacing":36,"bounds":"flush"}
]
}
